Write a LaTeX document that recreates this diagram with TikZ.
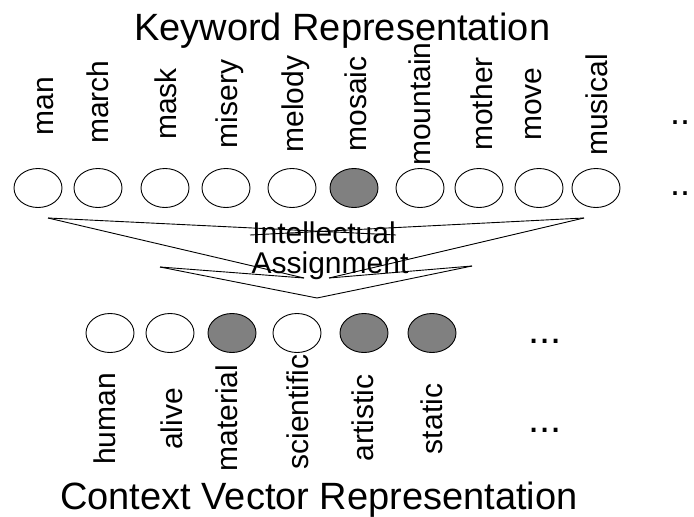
\documentclass[tikz,border=0pt]{standalone}
\usepackage{fontspec}
\setmainfont{Liberation Sans}
\usetikzlibrary{shapes.geometric}
\definecolor{cellgray}{HTML}{808080}
\begin{document}
\begin{tikzpicture}[x=1pt,y=-1pt,
  cell/.style={ellipse, draw=black, line width=0.9pt, fill=white,
    minimum width=48pt, minimum height=39pt, inner sep=0pt},
  marked/.style={cell, fill=cellgray},
  word/.style={rotate=90, anchor=base, inner sep=0pt,
    font=\fontsize{30}{36}\selectfont},
  heading/.style={anchor=base west, inner sep=0pt,
    font=\fontsize{38}{44}\selectfont},
  note/.style={anchor=base, inner sep=0pt, font=\fontsize{30}{36}\selectfont},
  more/.style={anchor=base west, inner sep=0pt},
  link/.style={draw=black, line width=0.9pt},
]
\useasboundingbox (0,0) rectangle (694,517);

% headings
\node[heading] (kwtitle) at (134,40) {Keyword Representation};
\node[heading] (cvtitle) at (60,509) {Context Vector Representation};

% keyword row
\node[cell]   (k1)  at (38,188)  {};
\node[cell]   (k2)  at (98,188)  {};
\node[cell]   (k3)  at (165,188) {};
\node[cell]   (k4)  at (226,188) {};
\node[cell]   (k5)  at (292,188) {};
\node[marked] (k6)  at (354,188) {};
\node[cell]   (k7)  at (420,188) {};
\node[cell]   (k8)  at (479,188) {};
\node[cell]   (k9)  at (539,188) {};
\node[cell]   (k10) at (596,188) {};

\node[word] (w1)  at (53,106)  {man};
\node[word] (w2)  at (108,102) {march};
\node[word] (w3)  at (176,104) {mask};
\node[word] (w4)  at (237,104) {misery};
\node[word] (w5)  at (303,104) {melody};
\node[word] (w6)  at (366,104) {mosaic};
\node[word] (w7)  at (430,104) {mountain};
\node[word] (w8)  at (492,104) {mother};
\node[word] (w9)  at (541,104) {move};
\node[word] (w10) at (607,105) {musical};

\node[more, font=\fontsize{36}{40}\selectfont] (kdotsa) at (670,124) {..};
\node[more, font=\fontsize{36}{40}\selectfont] (kdotsb) at (670,195) {..};

% context vector row
\node[cell]   (c1) at (110,333) {};
\node[cell]   (c2) at (170,333) {};
\node[marked] (c3) at (232,333) {};
\node[cell]   (c4) at (297,333) {};
\node[marked] (c5) at (364,333) {};
\node[marked] (c6) at (432,333) {};

\node[word] (v1) at (115,419) {human};
\node[word] (v2) at (182,419) {alive};
\node[word] (v3) at (237,418) {material};
\node[word] (v4) at (308,412) {scientific};
\node[word] (v5) at (373,418) {artistic};
\node[word] (v6) at (442,419) {static};

\node[more, font=\fontsize{40}{44}\selectfont] (cdotsa) at (528,343) {...};
\node[more, font=\fontsize{40}{44}\selectfont] (cdotsb) at (528,432) {...};

% assignment funnel
\coordinate (ul) at (48,218);
\coordinate (ur) at (584,218);
\coordinate (ulend) at (396,235);
\coordinate (urend) at (250,235);
\coordinate (pl) at (304,278);
\coordinate (pr) at (329,278);
\coordinate (ll) at (160,267);
\coordinate (lr) at (472,266);
\coordinate (low) at (317,298);

\draw[link] (ul) -- (ulend);
\draw[link] (ur) -- (urend);
\draw[link] (ul) -- (pl);
\draw[link] (ur) -- (pr);
\draw[link] (ll) -- (pl);
\draw[link] (lr) -- (pr);
\draw[link] (ll) -- (low) -- (lr);

\node[note] (intel) at (324,243) {Intellectual};
\node[note] (assign) at (330,273) {Assignment};
\end{tikzpicture}
\end{document}
